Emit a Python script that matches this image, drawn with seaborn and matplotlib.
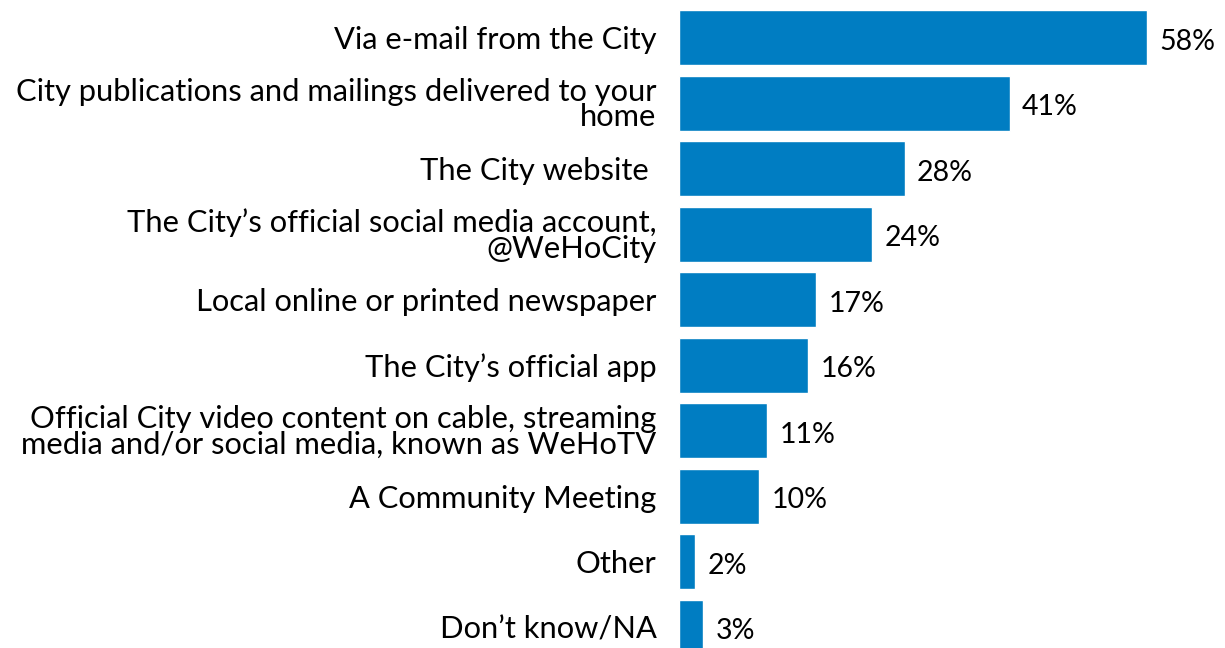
import matplotlib
matplotlib.use("Agg")
import matplotlib.pyplot as plt
import seaborn as sns
import pandas as pd

categories = [
    "Via e-mail from the City",
    "City publications and mailings delivered to your\nhome",
    "The City website ",
    "The City\u2019s official social media account,\n@WeHoCity",
    "Local online or printed newspaper",
    "The City\u2019s official app",
    "Official City video content on cable, streaming\nmedia and/or social media, known as WeHoTV",
    "A Community Meeting",
    "Other",
    "Don\u2019t know/NA",
]
values = [58, 41, 28, 24, 17, 16, 11, 10, 2, 3]
value_labels = ["58%", "41%", "28%", "24%", "17%", "16%", "11%", "10%", "2%", "3%"]

sns.set_theme(style="white")
plt.rcParams["font.family"] = ["Lato", "DejaVu Sans"]

df = pd.DataFrame({"category": categories, "value": values})

fig = plt.figure(figsize=(12.25, 6.48), dpi=100)
ax = fig.add_axes([0.554, -0.0185, 0.446, 1.011])

sns.barplot(data=df, x="value", y="category", orient="h", color="#007DC2",
            saturation=1, width=0.84, ax=ax)

ax.set_xlim(0, 67.7)
ax.set_xlabel("")
ax.set_ylabel("")
ax.set_xticks([])
for s in ax.spines.values():
    s.set_visible(False)

ax.tick_params(axis="y", length=0, pad=16, labelsize=22.2, labelcolor="black")
for lbl in ax.get_yticklabels():
    lbl.set_linespacing(0.9)
    lbl.set_horizontalalignment("right")

for bar, txt in zip(ax.patches, value_labels):
    y = bar.get_y() + bar.get_height() / 2
    ax.annotate(txt, xy=(bar.get_width(), y), xytext=(9, -3),
                textcoords="offset points", ha="left", va="center",
                fontsize=20.5, color="black")

fig.savefig("out.png", dpi=100)
